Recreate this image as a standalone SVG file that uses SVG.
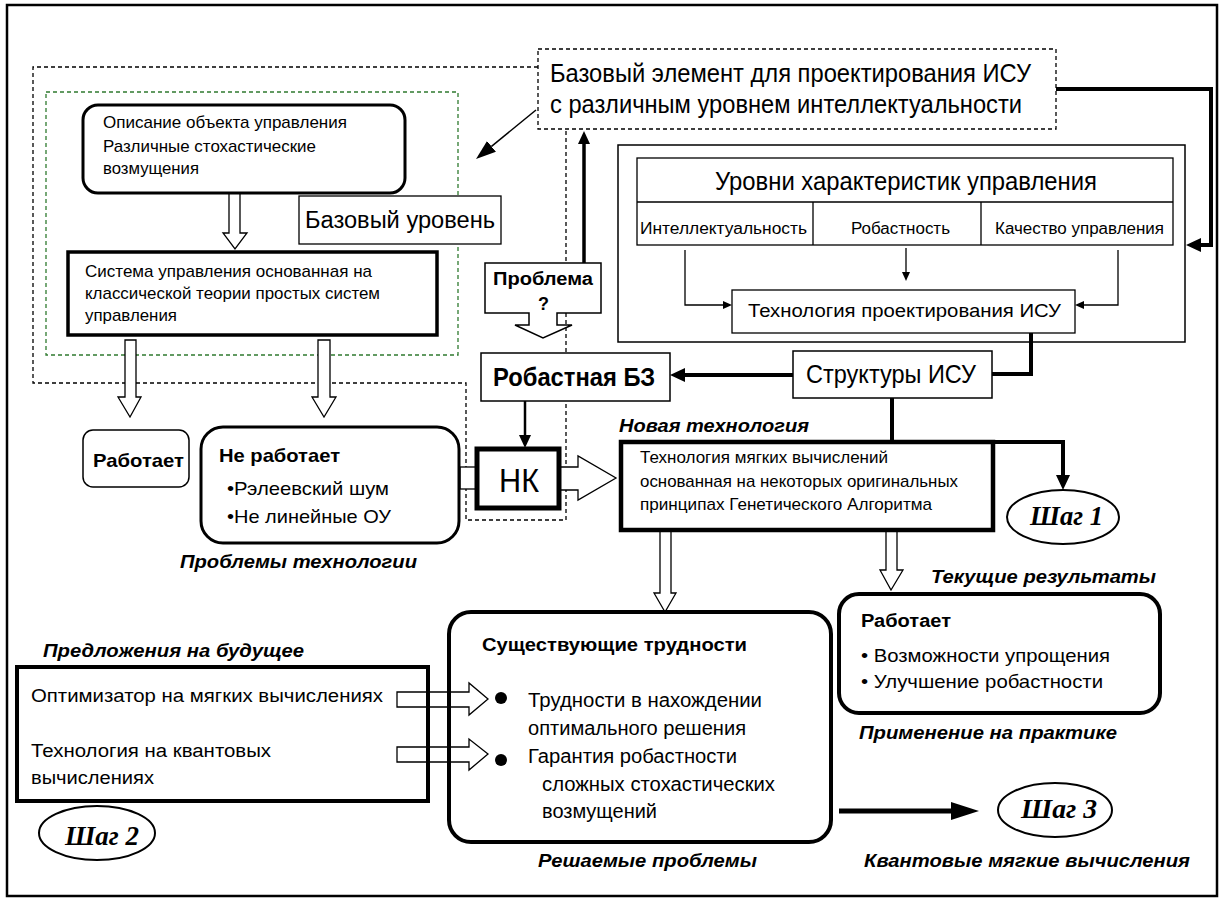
<svg xmlns="http://www.w3.org/2000/svg" width="1223" height="900" viewBox="0 0 1223 900">
<defs>
<style>
text{font-family:"Liberation Sans",Arial,sans-serif;fill:#000}
.b{font-weight:bold}
.bi{font-weight:bold;font-style:italic}
.step{font-family:"Liberation Serif","Times New Roman",serif;font-weight:bold;font-style:italic;font-size:28px}
.box{fill:none;stroke:#000}
.wbox{fill:#fff;stroke:#000}
.dash{fill:none;stroke:#000;stroke-width:1.3;stroke-dasharray:4 3}
.gdash{fill:none;stroke:#2f7a2f;stroke-width:1.3;stroke-dasharray:4 3}
.hollow{fill:#fff;stroke:#000;stroke-width:1.3;stroke-linejoin:miter}
.line{fill:none;stroke:#000}
</style>
<marker id="mThick" markerUnits="userSpaceOnUse" markerWidth="15" markerHeight="14" refX="0" refY="7" orient="auto"><path d="M0,0 L15,7 L0,14 z" fill="#000"/></marker>
<marker id="mMid" markerUnits="userSpaceOnUse" markerWidth="13" markerHeight="12" refX="0" refY="6" orient="auto"><path d="M0,0 L13,6 L0,12 z" fill="#000"/></marker>
<marker id="mThin" markerUnits="userSpaceOnUse" markerWidth="9" markerHeight="8" refX="0" refY="4" orient="auto"><path d="M0,0 L9,4 L0,8 z" fill="#000"/></marker>
<marker id="mDiag" markerUnits="userSpaceOnUse" markerWidth="20" markerHeight="14" refX="0" refY="7" orient="auto"><path d="M0,0 L20,7 L0,14 z" fill="#000"/></marker>
<marker id="mWide" markerUnits="userSpaceOnUse" markerWidth="28" markerHeight="18" refX="0" refY="9" orient="auto"><path d="M0,0 L28,9 L0,18 z" fill="#000"/></marker>
</defs>
<rect x="0" y="0" width="1223" height="900" fill="#fff"/>
<rect x="7" y="5" width="1210" height="891" fill="none" stroke="#000" stroke-width="2.5"/>

<g id="frames">
<path class="dash" d="M538,67 H33 V383 H466 V520 H566 V129"/>
<rect class="gdash" x="46" y="92" width="412" height="263"/>
</g>

<g id="connectors">
<path class="line" stroke-width="4" d="M1056,89 H1211 V245 H1201" marker-end="url(#mThick)"/>
<path class="line" stroke-width="1.5" d="M536,110 L491.5,146.4" marker-end="url(#mDiag)"/>
<path class="line" stroke-width="3.5" d="M584,263 V144" marker-end="url(#mMid)"/>
<path class="line" stroke-width="4" d="M793,375 H685" marker-end="url(#mThick)"/>
<path class="line" stroke-width="2.5" d="M525,401 V435" marker-end="url(#mMid)"/>
<path class="line" stroke-width="4" d="M1031,333 V374 H992"/>
<path class="line" stroke-width="4" d="M892,398 V442 H1063 V475" marker-end="url(#mThick)"/>
<path class="line" stroke-width="1.3" d="M685,250 V305 H723" marker-end="url(#mThin)"/>
<path class="line" stroke-width="1.3" d="M1118,250 V305 H1084" marker-end="url(#mThin)"/>
<path class="line" stroke-width="1.3" d="M906,248 V272" marker-end="url(#mThin)"/>
<path class="line" stroke-width="5" d="M839,811 H951" marker-end="url(#mWide)"/>
<polygon class="hollow" points="229,193 240,193 240,233 247,233 235,249 223,233 229,233"/>
<polygon class="hollow" points="125,340 136,340 136,397 141,397 130,417 118,397 125,397"/>
<polygon class="hollow" points="318,340 330,340 330,397 336,397 324,417 312,397 318,397"/>
<polygon class="hollow" points="660,530 671,530 671,593 676,593 665,612 654,593 660,593"/>
<polygon class="hollow" points="886,530 897,530 897,570 903,570 891,590 880,570 886,570"/>
<polygon class="hollow" points="397,692 469,692 469,683 488,699 469,715 469,707 397,707"/>
<polygon class="hollow" points="397,747 469,747 469,739 488,754 469,770 469,762 397,762"/>
<polygon class="hollow" points="559,467 578,467 578,456 616,478 578,500 578,490 559,490"/>
<rect class="hollow" x="460" y="467" width="17" height="22"/>
</g>

<g id="top-element">
<rect class="wbox" x="538" y="49" width="518" height="80" stroke-width="1.3" stroke-dasharray="4 3"/>
<text x="550" y="82" font-size="25" textLength="481" lengthAdjust="spacingAndGlyphs">Базовый элемент для проектирования ИСУ</text>
<text x="550" y="113" font-size="25" textLength="472" lengthAdjust="spacingAndGlyphs">с различным уровнем интеллектуальности</text>
</g>

<g id="object-description">
<rect class="box" x="83" y="105" width="322" height="88" rx="15" stroke-width="3"/>
<text x="103" y="128" font-size="17" textLength="244" lengthAdjust="spacingAndGlyphs">Описание объекта управления</text>
<text x="103" y="152" font-size="17" textLength="213" lengthAdjust="spacingAndGlyphs">Различные стохастические</text>
<text x="103" y="174" font-size="17" textLength="96" lengthAdjust="spacingAndGlyphs">возмущения</text>
</g>

<g id="base-level">
<rect class="wbox" x="299" y="196" width="202" height="48" stroke="#2f6f2f" stroke-width="1.3"/>
<text x="305" y="228" font-size="23" textLength="190" lengthAdjust="spacingAndGlyphs">Базовый уровень</text>
</g>

<g id="classic-system">
<rect class="box" x="68" y="252" width="369" height="83" stroke-width="3.5"/>
<text x="85" y="277" font-size="17" textLength="287" lengthAdjust="spacingAndGlyphs">Система управления основанная на</text>
<text x="85" y="299" font-size="17" textLength="295" lengthAdjust="spacingAndGlyphs">классической теории простых систем</text>
<text x="85" y="321" font-size="17" textLength="92" lengthAdjust="spacingAndGlyphs">управления</text>
</g>

<g id="works-left">
<rect class="box" x="83" y="430" width="106" height="57" rx="10" stroke-width="1.5"/>
<text class="b" x="93" y="467" font-size="19" textLength="91" lengthAdjust="spacingAndGlyphs">Работает</text>
</g>

<g id="not-works">
<rect class="box" x="201" y="427" width="258" height="116" rx="22" stroke-width="3"/>
<text class="b" x="219" y="462" font-size="19" textLength="121" lengthAdjust="spacingAndGlyphs">Не работает</text>
<text x="227" y="495" font-size="19" textLength="162" lengthAdjust="spacingAndGlyphs">•Рэлеевский шум</text>
<text x="227" y="523" font-size="19" textLength="164" lengthAdjust="spacingAndGlyphs">•Не линейные ОУ</text>
<text class="bi" x="180" y="568" font-size="19" textLength="237" lengthAdjust="spacingAndGlyphs">Проблемы технологии</text>
</g>

<g id="problem">
<path class="wbox" stroke-width="1.5" d="M485,263 H601 V313 H557 V325 H572 L543,338 L515,325 H529 V313 H485 Z"/>
<text class="b" x="493" y="285" font-size="18" textLength="100" lengthAdjust="spacingAndGlyphs">Проблема</text>
<text class="b" x="538" y="310" font-size="18">?</text>
</g>

<g id="robust-kb">
<rect class="wbox" x="481" y="353" width="189" height="48" stroke-width="1.5"/>
<text class="b" x="493" y="386" font-size="25" textLength="162" lengthAdjust="spacingAndGlyphs">Робастная БЗ</text>
</g>

<g id="nk">
<rect class="wbox" x="477" y="449" width="82" height="59" stroke-width="5"/>
<text x="499" y="492" font-size="33" textLength="40" lengthAdjust="spacingAndGlyphs">НК</text>
</g>

<g id="levels">
<rect class="box" x="618" y="145" width="567" height="197" stroke-width="1.5"/>
<rect class="box" x="637" y="158" width="536" height="87" stroke-width="1.3"/>
<path class="line" stroke-width="1.3" d="M637,202 H1173 M813,202 V245 M981,202 V245"/>
<text x="715" y="190" font-size="25" textLength="382" lengthAdjust="spacingAndGlyphs">Уровни характеристик управления</text>
<text x="640" y="234" font-size="16" textLength="167" lengthAdjust="spacingAndGlyphs">Интеллектуальность</text>
<text x="851" y="234" font-size="16" textLength="99" lengthAdjust="spacingAndGlyphs">Робастность</text>
<text x="995" y="234" font-size="16" textLength="169" lengthAdjust="spacingAndGlyphs">Качество управления</text>
</g>

<g id="design-tech">
<rect class="box" x="732" y="290" width="343" height="43" stroke-width="1.3"/>
<text x="748" y="317" font-size="18" textLength="313" lengthAdjust="spacingAndGlyphs">Технология проектирования ИСУ</text>
</g>

<g id="structures">
<rect class="wbox" x="793" y="351" width="199" height="47" stroke-width="1.5"/>
<text x="806" y="383" font-size="25" textLength="170" lengthAdjust="spacingAndGlyphs">Структуры ИСУ</text>
</g>

<g id="soft-computing">
<text class="bi" x="619" y="432" font-size="19" textLength="190" lengthAdjust="spacingAndGlyphs">Новая технология</text>
<rect class="box" x="621" y="442" width="372" height="88" stroke-width="4.5"/>
<text x="640" y="463" font-size="17" textLength="248" lengthAdjust="spacingAndGlyphs">Технология мягких вычислений</text>
<text x="640" y="487" font-size="17" textLength="318" lengthAdjust="spacingAndGlyphs">основанная на некоторых оригинальных</text>
<text x="640" y="510" font-size="17" textLength="292" lengthAdjust="spacingAndGlyphs">принципах Генетического Алгоритма</text>
</g>

<g id="step1">
<ellipse cx="1063" cy="517" rx="56" ry="27" fill="none" stroke="#000" stroke-width="2"/>
<text class="step" x="1030" y="525" textLength="73" lengthAdjust="spacingAndGlyphs">Шаг 1</text>
</g>

<g id="current-results">
<text class="bi" x="931" y="583" font-size="19" textLength="225" lengthAdjust="spacingAndGlyphs">Текущие результаты</text>
<rect class="box" x="839" y="594" width="321" height="119" rx="20" stroke-width="4"/>
<text class="b" x="861" y="627" font-size="18" textLength="90" lengthAdjust="spacingAndGlyphs">Работает</text>
<text x="861" y="662" font-size="19" textLength="249" lengthAdjust="spacingAndGlyphs">• Возможности упрощения</text>
<text x="861" y="688" font-size="19" textLength="242" lengthAdjust="spacingAndGlyphs">• Улучшение робастности</text>
<text class="bi" x="859" y="739" font-size="19" textLength="258" lengthAdjust="spacingAndGlyphs">Применение на практике</text>
</g>

<g id="difficulties">
<rect class="box" x="449" y="612" width="382" height="230" rx="22" stroke-width="4"/>
<text class="b" x="482" y="651" font-size="19" textLength="265" lengthAdjust="spacingAndGlyphs">Существующие трудности</text>
<circle cx="501" cy="698" r="6" fill="#000"/>
<circle cx="501" cy="760" r="6" fill="#000"/>
<text x="528" y="707" font-size="20" textLength="234" lengthAdjust="spacingAndGlyphs">Трудности в нахождении</text>
<text x="528" y="735" font-size="20" textLength="218" lengthAdjust="spacingAndGlyphs">оптимального решения</text>
<text x="528" y="763" font-size="20" textLength="209" lengthAdjust="spacingAndGlyphs">Гарантия робастности</text>
<text x="542" y="791" font-size="20" textLength="233" lengthAdjust="spacingAndGlyphs">сложных стохастических</text>
<text x="542" y="818" font-size="20" textLength="115" lengthAdjust="spacingAndGlyphs">возмущений</text>
<text class="bi" x="538" y="867" font-size="19" textLength="219" lengthAdjust="spacingAndGlyphs">Решаемые проблемы</text>
</g>

<g id="proposals">
<text class="bi" x="43" y="657" font-size="19" textLength="261" lengthAdjust="spacingAndGlyphs">Предложения на будущее</text>
<rect class="box" x="17" y="667" width="411" height="134" stroke-width="4"/>
<text x="31" y="702" font-size="18" textLength="352" lengthAdjust="spacingAndGlyphs">Оптимизатор на мягких вычислениях</text>
<text x="31" y="757" font-size="18" textLength="240" lengthAdjust="spacingAndGlyphs">Технология на квантовых</text>
<text x="31" y="784" font-size="18" textLength="123" lengthAdjust="spacingAndGlyphs">вычислениях</text>
</g>

<g id="step2">
<ellipse cx="97" cy="833" rx="58" ry="27" fill="none" stroke="#000" stroke-width="2"/>
<text class="step" x="65" y="845" textLength="74" lengthAdjust="spacingAndGlyphs">Шаг 2</text>
</g>

<g id="step3">
<ellipse cx="1055" cy="810" rx="57" ry="27" fill="none" stroke="#000" stroke-width="2"/>
<text class="step" x="1021" y="818" textLength="76" lengthAdjust="spacingAndGlyphs">Шаг 3</text>
<text class="bi" x="864" y="867" font-size="19" textLength="326" lengthAdjust="spacingAndGlyphs">Квантовые мягкие вычисления</text>
</g>
</svg>
